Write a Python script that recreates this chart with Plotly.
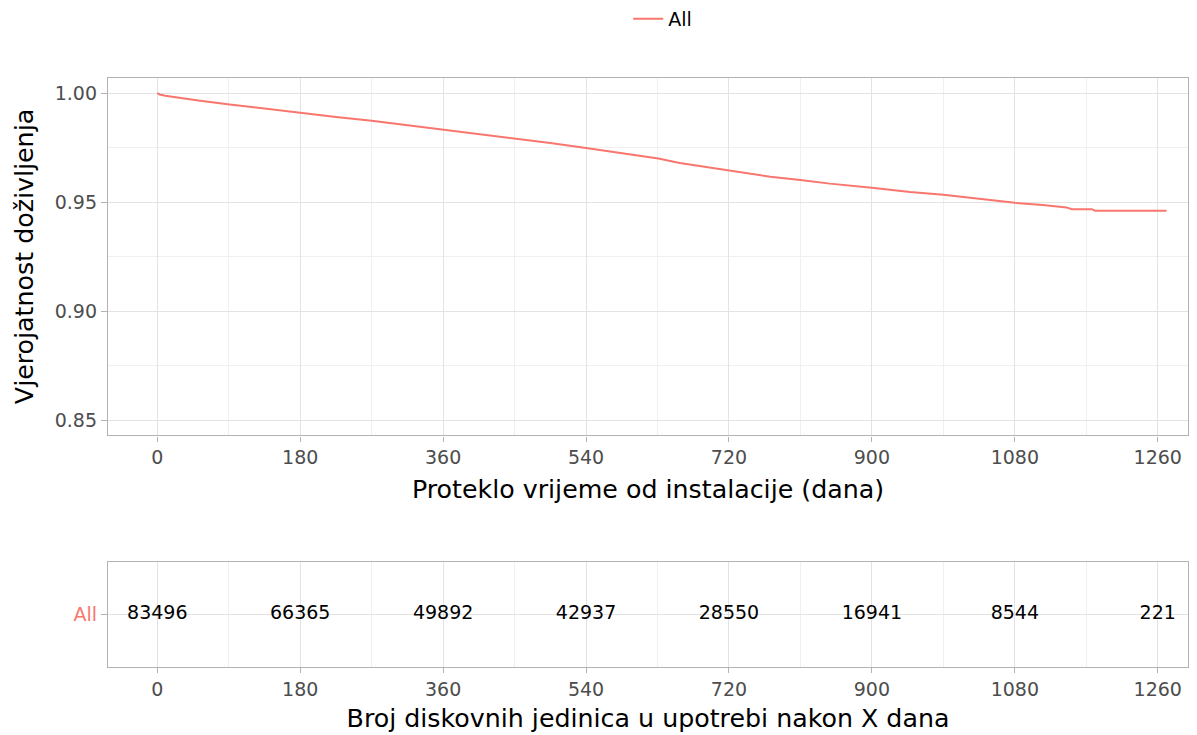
import plotly.graph_objects as go

# Kaplan-Meier curve
times = [0, 3, 10, 24, 54, 91, 138, 181, 225, 270, 315, 360, 405, 448, 495, 540,
         585, 631, 658, 675, 720, 772, 810, 847, 900, 948, 990, 1035, 1080, 1115,
         1145, 1152, 1177, 1181, 1271]
surv = [1.0000, 0.9994, 0.9988, 0.9980, 0.9965, 0.9948, 0.9927, 0.9908, 0.9891,
        0.9873, 0.9853, 0.9833, 0.9814, 0.9794, 0.9771, 0.9748, 0.9724, 0.9700,
        0.9680, 0.9671, 0.9644, 0.9617, 0.9602, 0.9585, 0.9566, 0.9547, 0.9534,
        0.9516, 0.9497, 0.9487, 0.9476, 0.9468, 0.9468, 0.9461, 0.9461]

# Risk table
risk_times = [0, 180, 360, 540, 720, 900, 1080, 1260]
risk_counts = [83496, 66365, 49892, 42937, 28550, 16941, 8544, 221]
strata = ["All"]

x_ticks = [0, 180, 360, 540, 720, 900, 1080, 1260]
y_ticks = [0.85, 0.90, 0.95, 1.00]
y_ticklabels = ["0.85", "0.90", "0.95", "1.00"]

COLOR = "#F8766D"
FONT = "DejaVu Sans"
GRID = "#E3E3E3"
MINOR = "#F0F0F0"
BORDER = "#B3B3B3"
TICKC = "#4D4D4D"

fig = go.Figure()
fig.add_trace(go.Scatter(x=times, y=surv, mode="lines", name=strata[0],
                         line=dict(color=COLOR, width=2), xaxis="x", yaxis="y"))
fig.add_trace(go.Scatter(x=risk_times, y=[1] * len(risk_times), mode="text",
                         text=[str(c) for c in risk_counts], showlegend=False,
                         textfont=dict(family=FONT, size=19, color="black"),
                         textposition="middle center", xaxis="x2", yaxis="y2",
                         hoverinfo="skip"))

xr = [-62.1, 1298.1]
common_x = dict(range=xr, tickvals=x_ticks, ticks="outside", ticklen=5,
                tickcolor=BORDER, tickfont=dict(family=FONT, size=19, color=TICKC),
                showgrid=True, gridcolor=GRID, gridwidth=1,
                minor=dict(dtick=90, tick0=0, showgrid=True, gridcolor=MINOR, gridwidth=1),
                showline=True, linecolor=BORDER, linewidth=1.3, mirror=True,
                zeroline=False)

fig.update_layout(
    width=1197, height=735,
    margin=dict(l=108, r=9, t=0, b=68),
    paper_bgcolor="white", plot_bgcolor="white",
    font=dict(family=FONT, color="black"),
    showlegend=True,
    legend=dict(orientation="h", x=0.4817, xanchor="left", y=0.973, yanchor="middle",
                font=dict(family=FONT, size=19, color="black"),
                bgcolor="rgba(0,0,0,0)"),
    xaxis=dict(domain=[0, 1], anchor="y",
               title=dict(text="Proteklo vrijeme od instalacije (dana)",
                          font=dict(family=FONT, size=25.3, color="black"), standoff=12),
               **common_x),
    yaxis=dict(domain=[0.3478, 0.885], anchor="x", range=[0.8430, 1.00715],
               tickvals=y_ticks, ticktext=y_ticklabels, ticks="outside", ticklen=6,
               tickcolor=BORDER, tickfont=dict(family=FONT, size=19, color=TICKC),
               showgrid=True, gridcolor=GRID, gridwidth=1,
               minor=dict(dtick=0.025, tick0=0.85, showgrid=True, gridcolor=MINOR, gridwidth=1),
               showline=True, linecolor=BORDER, linewidth=1.3, mirror=True,
               zeroline=False,
               title=dict(text="Vjerojatnost doživljenja",
                          font=dict(family=FONT, size=25.3, color="black"), standoff=13)),
    xaxis2=dict(domain=[0, 1], anchor="y2",
                title=dict(text="Broj diskovnih jedinica u upotrebi nakon X dana",
                           font=dict(family=FONT, size=25.3, color="black"), standoff=10),
                **common_x),
    yaxis2=dict(domain=[0, 0.1579], anchor="x2", range=[0.4, 1.6],
                tickvals=[1], ticktext=strata, ticks="outside", ticklen=6,
                tickcolor=BORDER, tickfont=dict(family=FONT, size=19, color=COLOR),
                showgrid=True, gridcolor=GRID, gridwidth=1,
                showline=True, linecolor=BORDER, linewidth=1.3, mirror=True,
                zeroline=False),
)

fig.write_html("out.html", config={"displayModeBar": False},
               post_script="document.body.style.margin='0px';")
